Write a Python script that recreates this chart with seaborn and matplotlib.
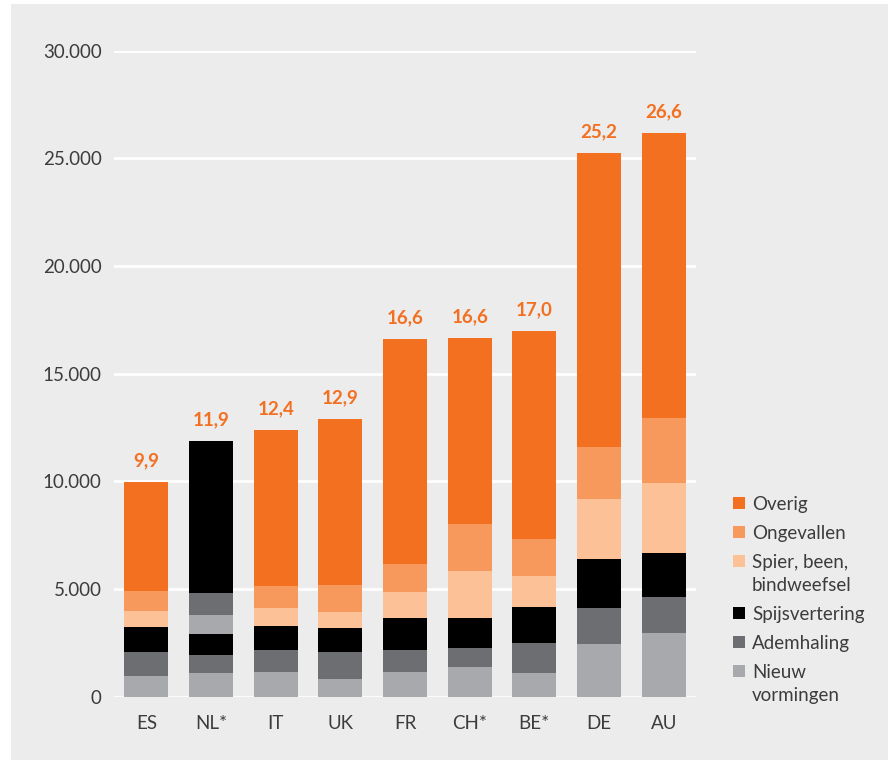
import matplotlib
matplotlib.use("Agg")
import matplotlib.pyplot as plt
import matplotlib.patches as mpatches
from matplotlib.ticker import FuncFormatter
import seaborn as sns
import numpy as np

# data (stack order bottom -> top)
countries = ["ES", "NL*", "IT", "UK", "FR", "CH*", "BE*", "DE", "AU"]
categories = ["Nieuw\nvormingen", "Ademhaling", "Spijsvertering",
              "Spier, been,\nbindweefsel", "Ongevallen", "Overig"]
nieuw = [960, 1100, 1150, 820, 1150, 1380, 1100, 2450, 2960]
ademhaling = [1115, 840, 1020, 1255, 1020, 880, 1395, 1670, 1670]
spijsvertering = [1160, 975, 1115, 1115, 1485, 1395, 1670, 2275, 2045]
spier = [745, 0, 835, 745, 1210, 2185, 1440, 2785, 3250]
ongevallen = [930, 0, 1020, 1255, 1300, 2185, 1720, 2415, 3020]
overig = [5060, 0, 7245, 7710, 10445, 8640, 9655, 13670, 13235]
# NL* has a second block of segments stacked on top of the first three
nl_extra_cats = ["Nieuw\nvormingen", "Ademhaling", "Spijsvertering"]
nl_extra_vals = [883, 1022, 7060]
total_labels = ["9,9", "11,9", "12,4", "12,9", "16,6", "16,6", "17,0", "25,2", "26,6"]

colors = {
    "Nieuw\nvormingen": "#a7a9ac",
    "Ademhaling": "#6d6e71",
    "Spijsvertering": "#000000",
    "Spier, been,\nbindweefsel": "#fcc197",
    "Ongevallen": "#f7985c",
    "Overig": "#f37021",
}
text_color = "#3c3c3c"

sns.set_theme(style="white")
plt.rcParams["font.family"] = ["Lato", "DejaVu Sans"]

W, H = 891, 760
fig = plt.figure(figsize=(W / 100, H / 100), dpi=100)
fig.patch.set_facecolor("white")
# grey panel behind everything
fig.patches.append(mpatches.Rectangle((11 / W, 0), 877 / W, 756 / H,
                                      transform=fig.transFigure,
                                      facecolor="#ececec", edgecolor="none",
                                      zorder=-10))

ax = fig.add_axes([114 / W, (H - 696.7) / H, 582 / W, 646 / H])
ax.patch.set_alpha(0)

x = np.arange(len(countries))
width = 0.68
series = [nieuw, ademhaling, spijsvertering, spier, ongevallen, overig]
bottom = np.zeros(len(countries))
for cat, vals in zip(categories, series):
    vals = np.array(vals, dtype=float)
    ax.bar(x, vals, width, bottom=bottom, color=colors[cat], linewidth=0, zorder=3)
    bottom += vals

nl_idx = countries.index("NL*")
for cat, v in zip(nl_extra_cats, nl_extra_vals):
    ax.bar(x[nl_idx], v, width, bottom=bottom[nl_idx], color=colors[cat],
           linewidth=0, zorder=3)
    bottom[nl_idx] += v

for xi, top, lab in zip(x, bottom, total_labels):
    ax.annotate(lab, (xi, top), xytext=(0, 15), textcoords="offset points",
                ha="center", va="center", color="#f37021",
                fontsize=13.5, fontweight="bold")

ax.set_xlim(-0.5, len(countries) - 0.5)
ax.set_ylim(0, 30000)
ax.set_yticks(np.arange(0, 30001, 5000))
ax.yaxis.set_major_formatter(FuncFormatter(lambda v, p: f"{int(v):,}".replace(",", ".")))
ax.grid(axis="y", color="white", linewidth=2)
ax.set_axisbelow(True)
ax.set_xticks(x)
ax.set_xticklabels(countries)
ax.tick_params(axis="both", length=0, labelsize=13.5, labelcolor=text_color)
ax.tick_params(axis="y", pad=9)
ax.tick_params(axis="x", pad=13)
for s in ax.spines.values():
    s.set_visible(False)

# legend: square aligned with the first line of each label
y = 503
for cat in reversed(categories):
    fig.patches.append(mpatches.Rectangle((733 / W, (H - y - 6) / H), 12 / W, 12 / H,
                                          transform=fig.transFigure,
                                          facecolor=colors[cat], edgecolor="none"))
    lines = cat.split("\n")
    for i, line in enumerate(lines):
        fig.text(752 / W, (H - y - 23 * i) / H, line, ha="left",
                 va="center_baseline", fontsize=13.5, color=text_color)
    y += 29 + 23 * (len(lines) - 1)

fig.savefig("out.png", dpi=100)
